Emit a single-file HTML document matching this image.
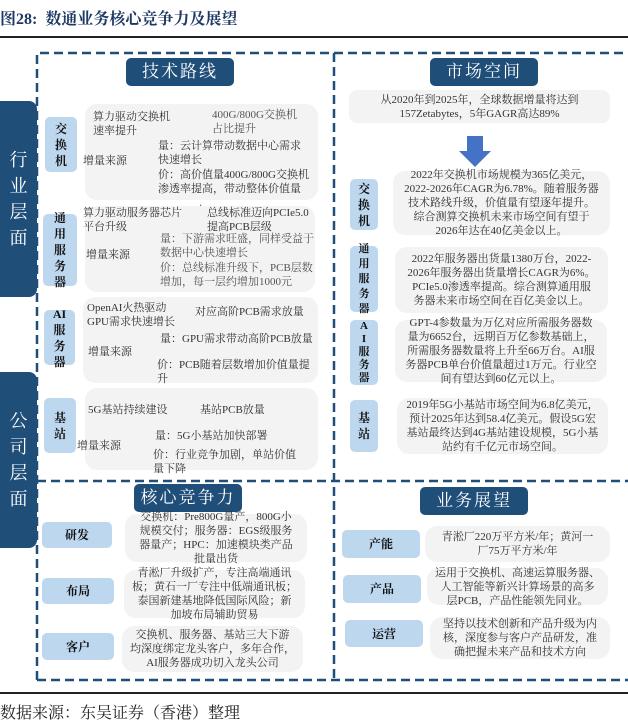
<!DOCTYPE html>
<html><head><meta charset="utf-8"><style>
body{margin:0;width:628px;height:712px;overflow:hidden;background:#fff;position:relative;font-family:"Liberation Serif","Noto Serif CJK SC",serif;color:#333;}
div{position:absolute;box-sizing:border-box;}
.h{background:#1f4e79;color:#fff;border-radius:5px;font-size:17px;text-align:center;line-height:28px;letter-spacing:2px;}
.g{background:#f3f3f3;border-radius:12px;}
.t{background:#bdd7ee;border-radius:5px;font-weight:bold;font-size:12px;color:#111;display:flex;align-items:center;justify-content:center;text-align:center;line-height:16px;}
.x{font-size:11px;line-height:14px;white-space:nowrap;}
.c{font-size:11px;line-height:14px;text-align:center;display:flex;align-items:center;justify-content:center;}
.big{background:#1f4e79;color:#fff;border-radius:0 8px 8px 0;font-size:18px;line-height:26px;text-align:center;display:flex;align-items:center;justify-content:center;}
svg{position:absolute;}
</style></head><body>
<div style="left:0;top:6px;font-size:16px;font-weight:bold;color:#1f3864;white-space:nowrap">图28:&nbsp; 数通业务核心竞争力及展望</div>
<div style="left:0;top:36px;width:628px;height:2px;background:#222"></div>

<svg width="628" height="712" style="left:0;top:0">
<g stroke="#1f4e79" stroke-width="2.5" stroke-dasharray="9,5" fill="none">
<path d="M37 680 V53 H628"/>
<path d="M334 53 V680"/>
<path d="M37 481 H628"/>
<path d="M37 680 H628"/>
</g>
<g fill="#4472c4">
<path d="M185 113h10v-5l8 10-8 10v-5h-10z"/>
<path d="M190 209h10v-5l8 10-8 10v-5h-10z"/>
<path d="M168 302h10v-5l8 10-8 10v-5h-10z"/>
<path d="M172 404h10v-5l8 10-8 10v-5h-10z"/>
<path d="M467 136h16v15h8l-16 16-16-16h8z"/>
</g>
<g fill="#4472c4">
<path d="M135 152 l10 -6 l-2 -4 l11 2 l-4 10 l-2 -4 l-10 6z"/>
<path d="M135 167 l10 6 l-2 4 l11 -2 l-4 -10 l-2 4 l-10 -6z"/>
<path d="M137 247 l10 -6 l-2 -4 l11 2 l-4 10 l-2 -4 l-10 6z"/>
<path d="M137 262 l10 6 l-2 4 l11 -2 l-4 -10 l-2 4 l-10 -6z"/>
<path d="M136 343 l10 -6 l-2 -4 l11 2 l-4 10 l-2 -4 l-10 6z"/>
<path d="M136 358 l10 6 l-2 4 l11 -2 l-4 -10 l-2 4 l-10 -6z"/>
<path d="M126 438 l10 -6 l-2 -4 l11 2 l-4 10 l-2 -4 l-10 6z"/>
<path d="M126 452 l10 6 l-2 4 l11 -2 l-4 -10 l-2 4 l-10 -6z"/>
</g>
</svg>

<div class="big" style="left:0;top:101px;width:37px;height:196px">行<br>业<br>层<br>面</div>
<div class="big" style="left:0;top:372px;width:37px;height:176px">公<br>司<br>层<br>面</div>

<div class="h" style="left:126px;top:58px;width:108px;height:28px">技术路线</div>
<div class="h" style="left:430px;top:58px;width:108px;height:28px">市场空间</div>
<div class="h" style="left:134px;top:484px;width:108px;height:28px">核心竞争力</div>
<div class="h" style="left:420px;top:487px;width:108px;height:28px">业务展望</div>

<div class="g" style="left:85px;top:104px;width:233px;height:96px"></div>
<div class="t" style="left:45px;top:117px;width:32px;height:55px">交<br>换<br>机</div>
<div class="x" style="left:93px;top:110px">算力驱动交换机<br>速率提升</div>
<div class="x" style="left:212px;top:108px;color:#555">400G/800G交换机<br>占比提升</div>
<div class="x" style="left:83px;top:154px">增量来源</div>
<div class="x" style="left:158px;top:139px">量：云计算带动数据中心需求<br>快速增长</div>
<div class="x" style="left:158px;top:168px">价：高价值量400G/800G交换机<br>渗透率提高，带动整体价值量</div>

<div class="g" style="left:85px;top:206px;width:230px;height:86px"></div>
<div class="t" style="left:43px;top:214px;width:34px;height:72px">通<br>用<br>服<br>务<br>器</div>
<div class="x" style="left:83px;top:206px">算力驱动服务器芯片<br>平台升级</div>
<div class="x" style="left:207px;top:206px">总线标准迈向PCIe5.0<br>提高PCB层级</div>
<div class="x" style="left:86px;top:248px">增量来源</div>
<div class="x" style="left:160px;top:232px;color:#555">量：下游需求旺盛，同样受益于<br>数据中心快速增长</div>
<div class="x" style="left:160px;top:261px;color:#555">价：总线标准升级下，PCB层数<br>增加，每一层约增加1000元</div>

<div class="g" style="left:83px;top:297px;width:235px;height:86px"></div>
<div class="t" style="left:44px;top:310px;width:31px;height:55px">AI<br>服<br>务<br>器</div>
<div class="x" style="left:87px;top:301px">OpenAI火热驱动<br>GPU需求快速增长</div>
<div class="x" style="left:195px;top:305px">对应高阶PCB需求放量</div>
<div class="x" style="left:88px;top:345px">增量来源</div>
<div class="x" style="left:160px;top:332px">量：GPU需求带动高阶PCB放量</div>
<div class="x" style="left:157px;top:358px">价：PCB随着层数增加价值量提<br>升</div>

<div class="g" style="left:85px;top:388px;width:233px;height:82px"></div>
<div class="t" style="left:44px;top:398px;width:32px;height:55px">基<br>站</div>
<div class="x" style="left:88px;top:403px">5G基站持续建设</div>
<div class="x" style="left:200px;top:403px">基站PCB放量</div>
<div class="x" style="left:77px;top:439px">增量来源</div>
<div class="x" style="left:155px;top:429px">量：5G小基站加快部署</div>
<div class="x" style="left:153px;top:448px">价：行业竞争加剧，单站价值<br>量下降</div>

<div class="g c" style="left:349px;top:90px;width:261px;height:33px;border-radius:8px">从2020年到2025年，全球数据增量将达到<br>157Zetabytes，5年GAGR高达89%</div>
<div class="t" style="left:350px;top:179px;width:28px;height:51px">交<br>换<br>机</div>
<div class="g c" style="left:393px;top:171px;width:217px;height:64px">2022年交换机市场规模为365亿美元，<br>2022-2026年CAGR为6.78%。随着服务器<br>技术路线升级，价值量有望逐年提升。<br>综合测算交换机未来市场空间有望于<br>2026年达在40亿美金以上。</div>
<div class="t" style="left:350px;top:246px;width:28px;height:66px;font-size:11px;line-height:15px">通<br>用<br>服<br>务<br>器</div>
<div class="g c" style="left:395px;top:247px;width:213px;height:66px">2022年服务器出货量1380万台，2022-<br>2026年服务器出货量增长CAGR为6%。<br>PCIe5.0渗透率提高。综合测算通用服<br>务器未来市场空间在百亿美金以上。</div>
<div class="t" style="left:350px;top:320px;width:28px;height:65px;font-size:11px;line-height:13px">A<br>I<br>服<br>务<br>器</div>
<div class="g c" style="left:395px;top:320px;width:212px;height:62px">GPT-4参数量为万亿对应所需服务器数<br>量为6652台，远期百万亿参数基础上，<br>所需服务器数量将上升至66万台。AI服<br>务器PCB单台价值量超过1万元。行业空<br>间有望达到60亿元以上。</div>
<div class="t" style="left:350px;top:400px;width:28px;height:52px">基<br>站</div>
<div class="g c" style="left:397px;top:398px;width:211px;height:56px">2019年5G小基站市场空间为6.8亿美元，<br>预计2025年达到58.4亿美元。假设5G宏<br>基站最终达到4G基站建设规模，5G小基<br>站约有千亿元市场空间。</div>

<div class="t" style="left:42px;top:522px;width:70px;height:26px">研发</div>
<div class="g c" style="left:125px;top:514px;width:182px;height:48px">交换机：Pre800G量产，800G小<br>规模交付；服务器：EGS级服务<br>器量产；HPC：加速模块类产品<br>批量出货</div>
<div class="t" style="left:42px;top:578px;width:72px;height:26px">布局</div>
<div class="g c" style="left:124px;top:570px;width:181px;height:48px">青淞厂升级扩产，专注高端通讯<br>板；黄石一厂专注中低端通讯板；<br>泰国新建基地降低国际风险；新<br>加坡布局辅助贸易</div>
<div class="t" style="left:42px;top:633px;width:72px;height:27px">客户</div>
<div class="g c" style="left:122px;top:626px;width:181px;height:46px">交换机、服务器、基站三大下游<br>均深度绑定龙头客户，多年合作，<br>AI服务器成功切入龙头公司</div>

<div class="t" style="left:342px;top:530px;width:78px;height:28px">产能</div>
<div class="g c" style="left:425px;top:526px;width:185px;height:36px">青淞厂220万平方米/年；黄河一<br>厂75万平方米/年</div>
<div class="t" style="left:343px;top:575px;width:78px;height:28px">产品</div>
<div class="g c" style="left:427px;top:568px;width:181px;height:37px">运用于交换机、高速运算服务器、<br>人工智能等新兴计算场景的高多<br>层PCB，产品性能领先同业。</div>
<div class="t" style="left:345px;top:620px;width:78px;height:27px">运营</div>
<div class="g c" style="left:430px;top:617px;width:180px;height:42px">坚持以技术创新和产品升级为内<br>核，深度参与客户产品研发，准<br>确把握未来产品和技术方向</div>

<div style="left:0;top:692px;width:628px;height:2px;background:#222"></div>
<div style="left:0;top:700px;font-size:16px;white-space:nowrap;color:#222">数据来源：东吴证券（香港）整理</div>
</body></html>
